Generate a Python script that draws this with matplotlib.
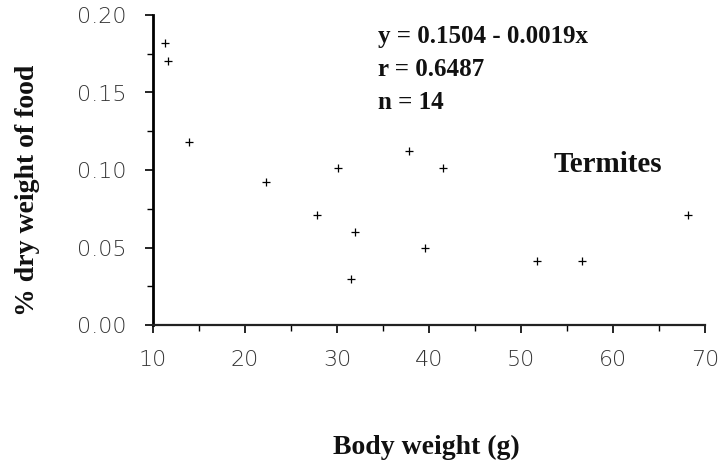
import matplotlib
matplotlib.use("Agg")
import matplotlib.pyplot as plt
from matplotlib.ticker import MultipleLocator

# Data (Termites)
body_weight = [11.3, 11.6, 13.9, 22.3, 27.8, 30.1, 31.5, 32.0, 37.8, 39.6, 41.5, 51.7, 56.6, 68.2]
dry_weight_pct = [0.182, 0.170, 0.118, 0.092, 0.071, 0.101, 0.030, 0.060, 0.112, 0.050, 0.101, 0.041, 0.041, 0.071]
x_ticks = [10, 20, 30, 40, 50, 60, 70]
y_ticks = [0.00, 0.05, 0.10, 0.15, 0.20]
stats_lines = ["y = 0.1504 - 0.0019x", "r = 0.6487", "n = 14"]
group_label = "Termites"

W, H = 722, 469
fig = plt.figure(figsize=(W / 100, H / 100), dpi=100)
fig.patch.set_facecolor("white")

left, right, bottom, top = 153, 705, 325, 15
ax = fig.add_axes([left / W, 1 - bottom / H, (right - left) / W, (bottom - top) / H])

ax.scatter(body_weight, dry_weight_pct, marker="+", s=36, color="black", linewidths=0.9, zorder=3)

ax.set_xlim(10, 70)
ax.set_ylim(0, 0.20)
ax.set_xticks(x_ticks)
ax.set_yticks(y_ticks)
ax.set_xticklabels([str(v) for v in x_ticks])
ax.set_yticklabels([f"{v:.2f}" for v in y_ticks])
ax.xaxis.set_minor_locator(MultipleLocator(5))
ax.yaxis.set_minor_locator(MultipleLocator(0.025))

for s in ["top", "right"]:
    ax.spines[s].set_visible(False)
ax.spines["left"].set_linewidth(2.0)
ax.spines["bottom"].set_linewidth(1.6)
ax.spines["bottom"].set_color("#222222")

ax.tick_params(axis="both", which="major", direction="out", length=6, width=1.2, colors="black",
               labelcolor="#333333", labelsize=16)
ax.tick_params(axis="both", which="minor", direction="out", length=4, width=1.0, colors="black")
ax.tick_params(axis="x", which="major", pad=12)
ax.tick_params(axis="y", which="major", pad=13)
for lab in ax.get_xticklabels() + ax.get_yticklabels():
    lab.set_fontfamily("DejaVu Sans")
    lab.set_fontweight("light")

serif = "Liberation Serif"
fig.text(28 / W, 1 - 190 / H, "% dry weight of food", rotation=90, ha="center", va="center",
         fontsize=20, fontweight="bold", family=serif, color="#111111")
fig.text(426 / W, 1 - 447 / H, "Body weight (g)", ha="center", va="center",
         fontsize=20, fontweight="bold", family=serif, color="#111111")

for i, line in enumerate(stats_lines):
    fig.text(378 / W, 1 - (36 + i * 33) / H, line, ha="left", va="center",
             fontsize=18, fontweight="bold", family=serif, color="#111111")
fig.text(608 / W, 1 - 165 / H, group_label, ha="center", va="center",
         fontsize=21, fontweight="bold", family=serif, color="#111111")

fig.savefig("out.png", dpi=100, facecolor="white")
